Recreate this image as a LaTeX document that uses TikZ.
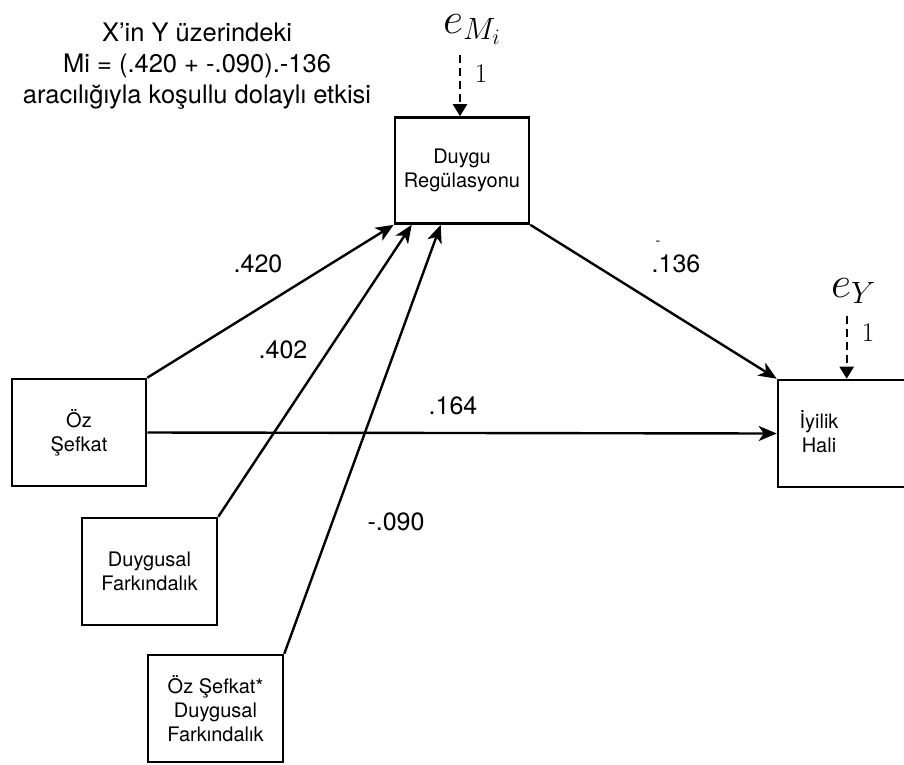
\RequirePackage{fix-cm}
\documentclass[tikz,border=0pt]{standalone}
\usepackage{fontspec}
\setmainfont{TeX Gyre Heros}
\usetikzlibrary{arrows.meta,calc}
\begin{document}
\begin{tikzpicture}[x=1pt,y=-1pt,
  box/.style={draw,line width=2.6pt,minimum width=134pt,minimum height=106pt,inner sep=0pt,align=center,font=\fontsize{20}{24}\selectfont},
  boxtext/.style={inner sep=0pt,align=center,font=\fontsize{20}{24}\selectfont},
  lbl/.style={inner sep=0pt,font=\fontsize{25}{30}\selectfont},
  path/.style={line width=2.4pt,-{Stealth[length=18pt,width=15pt,inset=5pt]}},
  dasharrow/.style={line width=2.4pt,dash pattern=on 8pt off 5pt,-{Triangle[length=12pt,width=14pt]}},
  errlbl/.style={inner sep=0pt,font=\fontsize{44}{44}\selectfont},
  onelbl/.style={inner sep=0pt,font=\fontsize{27}{27}\selectfont}]
\useasboundingbox (0,0) rectangle (904,764);
\clip (0,0) rectangle (904,764);

% title
\node[inner sep=0pt,align=center,font=\fontsize{25.5}{31}\selectfont] (title) at (197,66)
  {X’in Y üzerindeki\\Mi = (.420 + -.090).-136\\aracılığıyla koşullu dolaylı etkisi};

% boxes
\node[box] (dr) at (462,170.5) {Duygu\\Regülasyonu};
\node[box,minimum height=107pt] (os) at (79,432.5) {Öz\\Şefkat};
\node[box,minimum height=107pt,minimum width=135pt] (df) at (149.5,571.5) {Duygusal\\Farkındalık};
\node[box,minimum height=107pt,minimum width=135pt] (osdf) at (215.5,708.5) {Öz Şefkat*\\Duygusal\\Farkındalık};
\node[box,minimum height=107pt] (iyi) at (845,433.5) {};
\node[boxtext] (iyit) at (819,432) {İyilik\\Hali};

% connectors
\coordinate (drin2) at ($(dr.south west)+(18,0)$);
\coordinate (drin3) at ($(dr.south west)+(47,0)$);
\draw[path] (os.north east) -- (dr.south west);
\draw[path] (df.north east) -- (drin2);
\draw[path] (osdf.north east) -- (drin3);
\draw[path] (dr.south east) -- (iyi.north west);
\draw[path] (os.east) -- (iyi.west);

% error terms
\node[errlbl,anchor=base west] (eM) at (443,33) {$e_{M_i}$};
\coordinate (eMs) at ($(dr.north)+(-2,-61)$);
\coordinate (eMe) at ($(dr.north)+(-2,0)$);
\draw[dasharrow] (eMs) -- (eMe);
\node[onelbl] (oneM) at (481,74) {$1$};

\node[errlbl,anchor=base west] (eY) at (831,297) {$e_Y$};
\coordinate (eYs) at ($(iyi.north west)+(70,-63)$);
\coordinate (eYe) at ($(iyi.north west)+(70,0)$);
\draw[dasharrow] (eYs) -- (eYe);
\node[onelbl] (oneY) at (868,333) {$1$};

% coefficients
\node[lbl] (c420) at (258,264) {.420};
\node[lbl] (c402) at (283,350) {.402};
\node[lbl] (c164) at (453,406) {.164};
\node[lbl] (c090) at (396,522) {-.090};
\node[lbl] (c136) at (676,264) {.136};
\node[inner sep=0pt,font=\fontsize{14}{14}\selectfont] (c136m) at (658,243) {-};
\end{tikzpicture}
\end{document}
